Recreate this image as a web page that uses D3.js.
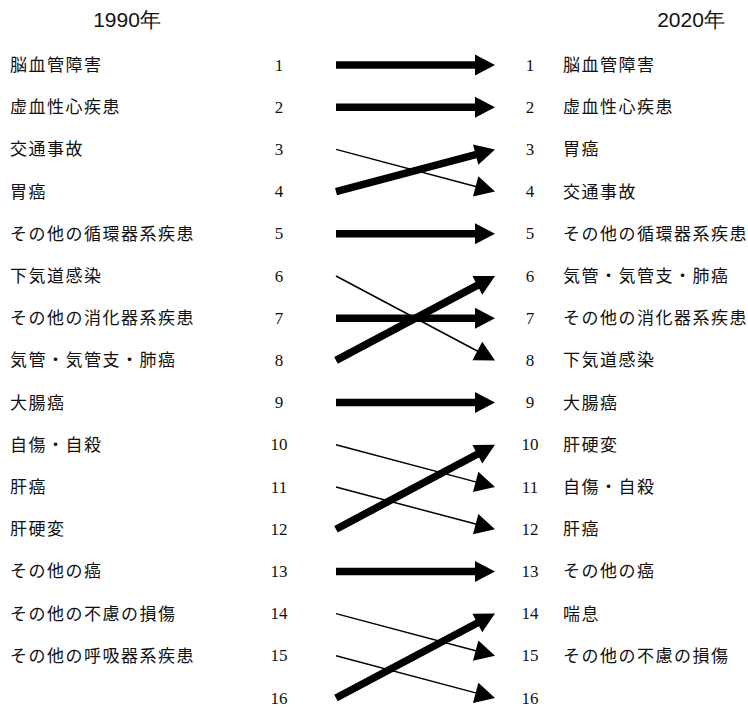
<!DOCTYPE html>
<html>
<head>
<meta charset="utf-8">
<script src="https://cdn.jsdelivr.net/npm/d3@7"></script>
<style>
  body { margin: 0; background: #fff; }
  svg text { fill: #111; }
</style>
</head>
<body>
<div id="chart"></div>
<script>
'use strict';

const yearLeft  = '1990年';
const yearRight = '2020年';

// causes in rank order (1..16), 16th has no label
const causes1990 = ['脳血管障害', '虚血性心疾患', '交通事故', '胃癌', 'その他の循環器系疾患',
                    '下気道感染', 'その他の消化器系疾患', '気管・気管支・肺癌', '大腸癌', '自傷・自殺',
                    '肝癌', '肝硬変', 'その他の癌', 'その他の不慮の損傷', 'その他の呼吸器系疾患', ''];
const causes2020 = ['脳血管障害', '虚血性心疾患', '胃癌', '交通事故', 'その他の循環器系疾患',
                    '気管・気管支・肺癌', 'その他の消化器系疾患', '下気道感染', '大腸癌', '肝硬変',
                    '自傷・自殺', '肝癌', 'その他の癌', '喘息', 'その他の不慮の損傷', ''];
const ranks = d3.range(1, 17);
// where each 1990 rank ends up in 2020
const rankTo2020 = [1, 2, 4, 3, 5, 8, 7, 6, 9, 11, 12, 10, 13, 15, 16, 14];

const width  = 748;
const height = 709;

const y = d3.scaleLinear().domain([1, 16]).range([65, 698]);
const x = d3.scaleOrdinal()
    .domain(['labelL', 'numL', 'arrowL', 'arrowR', 'numR', 'labelR'])
    .range([10, 279, 336, 495, 530, 563]);

const jpFont    = '"Noto Sans CJK JP", sans-serif';
const numFont   = '"Liberation Serif", "DejaVu Serif", serif';
const titleFont = '"Liberation Sans Narrow", "Liberation Sans", Arial, sans-serif';

const svg = d3.select('#chart').append('svg')
    .attr('width', width)
    .attr('height', height);

// titles
svg.append('text')
    .attr('x', 127).attr('y', 20)
    .attr('text-anchor', 'middle').attr('dy', '0.35em')
    .style('font-family', titleFont)
    .style('font-size', '21px')
    .text(yearLeft);
svg.append('text')
    .attr('x', 691).attr('y', 20)
    .attr('text-anchor', 'middle').attr('dy', '0.35em')
    .style('font-family', titleFont)
    .style('font-size', '21px')
    .text(yearRight);

// left labels + numbers
svg.selectAll('.labelL')
    .data(causes1990)
    .enter().append('text')
    .attr('class', 'labelL')
    .attr('x', x('labelL'))
    .attr('y', (d, i) => y(ranks[i]))
    .attr('dy', '0.35em')
    .style('font-family', jpFont)
    .style('font-size', '17px')
    .style('letter-spacing', '1.5px')
    .text(d => d);

svg.selectAll('.numL')
    .data(ranks)
    .enter().append('text')
    .attr('class', 'numL')
    .attr('x', x('numL'))
    .attr('y', d => y(d))
    .attr('dy', '0.33em')
    .attr('text-anchor', 'middle')
    .style('font-family', numFont)
    .style('font-size', '17px')
    .text(d => d);

// right numbers + labels
svg.selectAll('.numR')
    .data(ranks)
    .enter().append('text')
    .attr('class', 'numR')
    .attr('x', x('numR'))
    .attr('y', d => y(d))
    .attr('dy', '0.33em')
    .attr('text-anchor', 'middle')
    .style('font-family', numFont)
    .style('font-size', '17px')
    .text(d => d);

svg.selectAll('.labelR')
    .data(causes2020)
    .enter().append('text')
    .attr('class', 'labelR')
    .attr('x', x('labelR'))
    .attr('y', (d, i) => y(ranks[i]))
    .attr('dy', '0.35em')
    .style('font-family', jpFont)
    .style('font-size', '17px')
    .style('letter-spacing', '1.5px')
    .text(d => d);

// arrows: thick when rank rises or stays, thin when it falls
const headLen  = 20;
const headHalf = 10.5;

const arrows = ranks.map((r, i) => {
    let x1 = x('arrowL'), y1 = y(r);
    let x2 = x('arrowR'), y2 = y(rankTo2020[i]);
    let dx = x2 - x1, dy = y2 - y1;
    let len = Math.sqrt(dx * dx + dy * dy);
    let ux = dx / len, uy = dy / len;
    let bx = x2 - ux * headLen, by = y2 - uy * headLen;
    return {
        x1: x1, y1: y1, bx: bx + ux, by: by + uy,
        thick: rankTo2020[i] <= r,
        head: [[x2, y2], [bx - uy * headHalf, by + ux * headHalf], [bx + uy * headHalf, by - ux * headHalf]]
    };
});

const g = svg.append('g');
g.selectAll('line')
    .data(arrows)
    .enter().append('line')
    .attr('x1', d => d.x1).attr('y1', d => d.y1)
    .attr('x2', d => d.bx).attr('y2', d => d.by)
    .attr('stroke', '#000')
    .attr('stroke-width', d => d.thick ? 7.5 : 1.5);

g.selectAll('path')
    .data(arrows)
    .enter().append('path')
    .attr('d', d => 'M' + d.head.join('L') + 'Z')
    .attr('fill', '#000');
</script>
</body>
</html>
